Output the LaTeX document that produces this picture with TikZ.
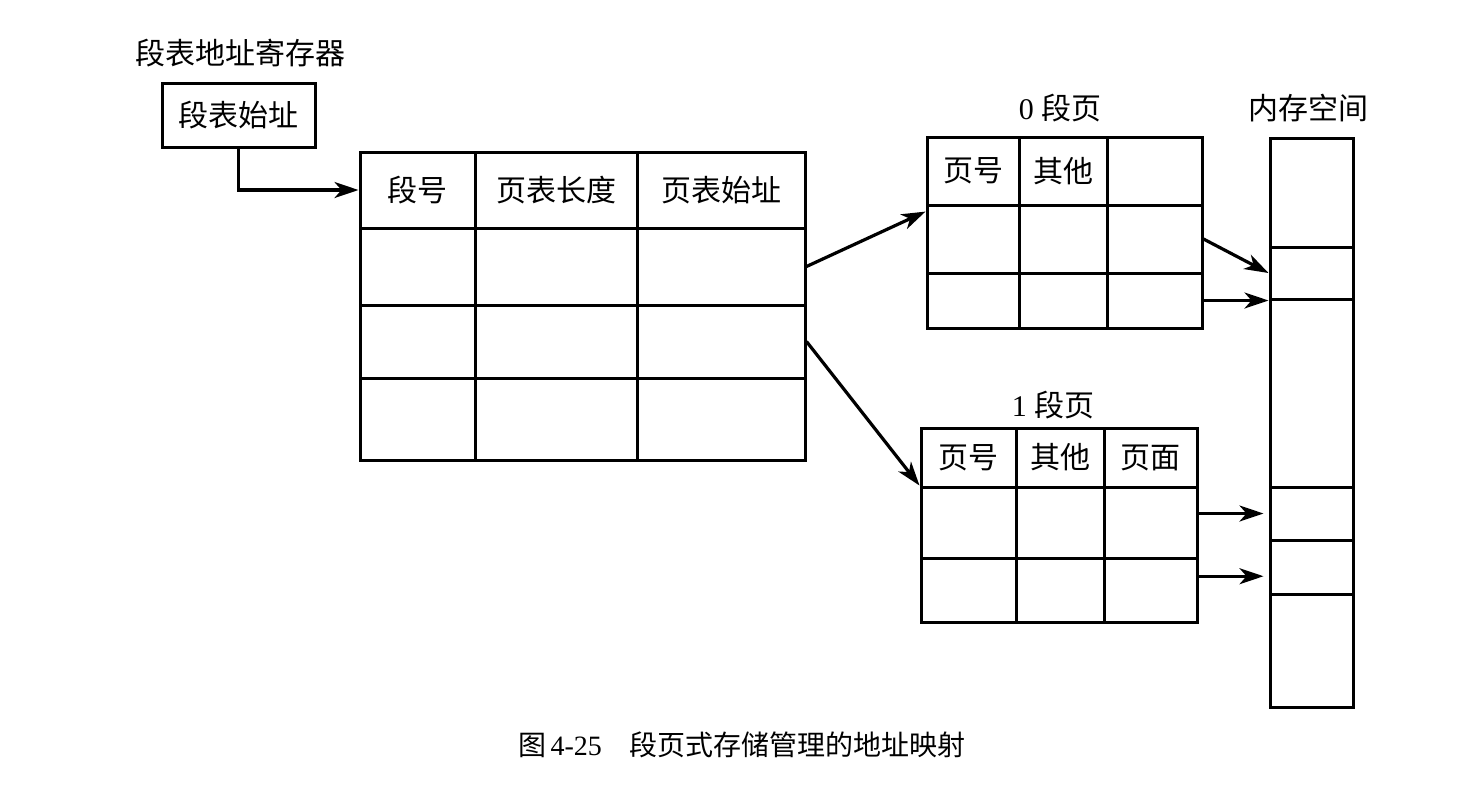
\documentclass[tikz,border=0pt]{standalone}
\usepackage{fontspec}
\setmainfont{Liberation Serif}
\newfontfamily\cjk{Noto Sans CJK SC}
\usetikzlibrary{arrows.meta}
\tikzset{
  cell/.style={draw, line width=1.5pt, inner sep=0pt, font=\cjk\fontsize{15}{18}\selectfont},
  lbl/.style={inner sep=0pt, font=\fontsize{15}{18}\selectfont},
  captxt/.style={inner sep=0pt, font=\fontsize{14}{17}\selectfont},
  arr/.style={line width=1.6pt, -{Stealth[length=12pt,width=8pt,inset=3.5pt]}},
}
\newcommand\mycell[6]{\node[cell, minimum width={(#4-#2)*0.5pt}, minimum height={(#5-#3)*0.5pt}] (#1) at ({(#2+#4)/2},{(#3+#5)/2}) {#6};}
\begin{document}
\begin{tikzpicture}[x=0.5pt, y=-0.5pt]
\fill[white] (0,0) rectangle (1480,799);
\useasboundingbox (0,0) rectangle (1480,799);

% register
\node[lbl] (reglbl) at (240,53) {\cjk 段表地址寄存器};
\mycell{reg}{162}{83}{315}{147}{段表始址}

% segment table: cols 360,475,637,805 ; rows 152,228,305,378,460
\mycell{s11}{360}{152}{475}{228}{段号}
\mycell{s12}{475}{152}{637}{228}{页表长度}
\mycell{s13}{637}{152}{805}{228}{页表始址}
\mycell{s21}{360}{228}{475}{305}{}
\mycell{s22}{475}{228}{637}{305}{}
\mycell{s23}{637}{228}{805}{305}{}
\mycell{s31}{360}{305}{475}{378}{}
\mycell{s32}{475}{305}{637}{378}{}
\mycell{s33}{637}{305}{805}{378}{}
\mycell{s41}{360}{378}{475}{460}{}
\mycell{s42}{475}{378}{637}{460}{}
\mycell{s43}{637}{378}{805}{460}{}

% page table of segment 0: cols 927,1019,1107,1202 ; rows 137,205,273,328
\node[lbl] (p0lbl) at (1060,108) {0 {\cjk 段页}};
\mycell{p011}{927}{137}{1019}{205}{页号}
\mycell{p012}{1019}{137}{1107}{205}{其他}
\mycell{p013}{1107}{137}{1202}{205}{}
\mycell{p021}{927}{205}{1019}{273}{}
\mycell{p022}{1019}{205}{1107}{273}{}
\mycell{p023}{1107}{205}{1202}{273}{}
\mycell{p031}{927}{273}{1019}{328}{}
\mycell{p032}{1019}{273}{1107}{328}{}
\mycell{p033}{1107}{273}{1202}{328}{}

% page table of segment 1: cols 921,1016,1104,1197 ; rows 428,487,558,622
\node[lbl] (p1lbl) at (1053,405) {1 {\cjk 段页}};
\mycell{p111}{921}{428}{1016}{487}{页号}
\mycell{p112}{1016}{428}{1104}{487}{其他}
\mycell{p113}{1104}{428}{1197}{487}{页面}
\mycell{p121}{921}{487}{1016}{558}{}
\mycell{p122}{1016}{487}{1104}{558}{}
\mycell{p123}{1104}{487}{1197}{558}{}
\mycell{p131}{921}{558}{1016}{622}{}
\mycell{p132}{1016}{558}{1104}{622}{}
\mycell{p133}{1104}{558}{1197}{622}{}

% memory
\node[lbl] (memlbl) at (1308,108) {\cjk 内存空间};
\mycell{m1}{1270}{138}{1353}{247}{}
\mycell{m2}{1270}{247}{1353}{299}{}
\mycell{m3}{1270}{299}{1353}{487}{}
\mycell{m4}{1270}{487}{1353}{540}{}
\mycell{m5}{1270}{540}{1353}{594}{}
\mycell{m6}{1270}{594}{1353}{707}{}

% connectors
\draw[arr] (reg.south) |- (s11.west);
\draw[arr] (s23.east) -- (p021.150);
\draw[arr] (s33.east) -- (p121.north west);
\draw[arr] (p023.east) -- (m2.west);
\draw[arr] (p033.east) -- (p033.east -| m2.west);
\draw[arr, shorten >=2.5pt] (m4.west -| p123.east) -- (m4.west);
\draw[arr, shorten >=2.5pt] (p133.16) -- (p133.16 -| m5.west);

% caption
\node[captxt] (caption) at (742,745) {{\cjk 图}\,4-25\quad{\cjk 段页式存储管理的地址映射}};
\end{tikzpicture}
\end{document}
